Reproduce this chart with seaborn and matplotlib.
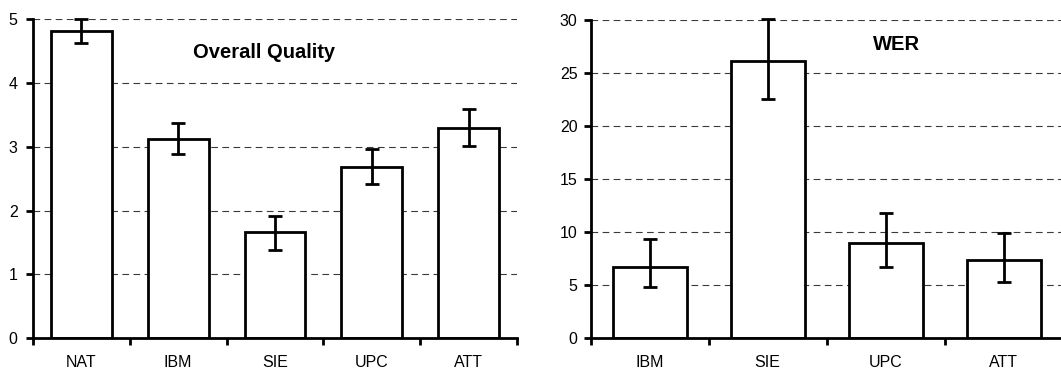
import numpy as np
import pandas as pd
import matplotlib
matplotlib.use("Agg")
import matplotlib.pyplot as plt
import seaborn as sns

# ---- data ----
quality_cats = ["NAT", "IBM", "SIE", "UPC", "ATT"]
quality_vals = [4.82, 3.12, 1.67, 2.69, 3.30]
quality_lo = [4.63, 2.89, 1.38, 2.41, 3.02]
quality_hi = [5.00, 3.38, 1.92, 2.97, 3.59]
quality_ticks = [0, 1, 2, 3, 4, 5]

wer_cats = ["IBM", "SIE", "UPC", "ATT"]
wer_vals = [6.73, 26.16, 9.00, 7.34]
wer_lo = [4.85, 22.6, 6.70, 5.32]
wer_hi = [9.32, 30.1, 11.8, 9.95]
wer_ticks = [0, 5, 10, 15, 20, 25, 30]

sns.set_style("white")
plt.rcParams["font.family"] = ["Liberation Sans", "DejaVu Sans"]
plt.rcParams["text.color"] = "black"

fig = plt.figure(figsize=(10.61, 3.69), dpi=100)
ax1 = fig.add_axes([33 / 1061, 31 / 369, 484 / 1061, 318.7 / 369])
ax2 = fig.add_axes([590.7 / 1061, 31 / 369, 472 / 1061, 317.7 / 369])


def draw(ax, cats, vals, lo, hi, ticks, title, title_xy, ypad):
    df = pd.DataFrame({"cat": cats, "val": vals})
    ax.set_axisbelow(True)
    ax.yaxis.grid(True, color="#3a3a3a", linewidth=0.8, linestyle=(0, (6, 4)))
    sns.barplot(data=df, x="cat", y="val", ax=ax, color="white",
                edgecolor="black", linewidth=2.0, width=0.63,
                saturation=1, errorbar=None)
    x = np.arange(len(cats))
    v = np.array(vals)
    yerr = np.vstack([v - np.array(lo), np.array(hi) - v])
    cont = ax.errorbar(x, v, yerr=yerr, fmt="none", ecolor="black",
                       elinewidth=2.0, capsize=5, capthick=2.0, zorder=5)
    for child in cont.get_children():
        child.set_clip_on(False)
    ax.set_xlim(-0.5, len(cats) - 0.5)
    ax.set_ylim(ticks[0], ticks[-1])
    ax.set_yticks(ticks)
    ax.set_xlabel("")
    ax.set_ylabel("")
    for s in ["top", "right"]:
        ax.spines[s].set_visible(False)
    for s in ["left", "bottom"]:
        ax.spines[s].set_color("black")
        ax.spines[s].set_linewidth(2.0)
    ax.set_xticks(np.arange(-0.5, len(cats)), minor=True)
    ax.tick_params(axis="x", which="major", length=0, pad=12,
                   labelsize=11.5, colors="black")
    ax.tick_params(axis="x", which="minor", length=5, width=2.0,
                   direction="out", color="black", bottom=True)
    ax.tick_params(axis="y", which="major", length=5, width=2.0,
                   direction="out", left=True, pad=ypad,
                   labelsize=11.5, colors="black")
    ax.text(title_xy[0], title_xy[1], title, transform=ax.transAxes,
            ha="center", va="center", fontsize=14.5, fontweight="bold",
            color="black")


draw(ax1, quality_cats, quality_vals, quality_lo, quality_hi, quality_ticks,
     "Overall Quality", ((264 - 33) / 484, (338 - 52) / 318.7), 6)
draw(ax2, wer_cats, wer_vals, wer_lo, wer_hi, wer_ticks,
     "WER", ((897 - 590.7) / 472, (338 - 45) / 317.7), 4.5)

fig.savefig("out.png", dpi=100)
